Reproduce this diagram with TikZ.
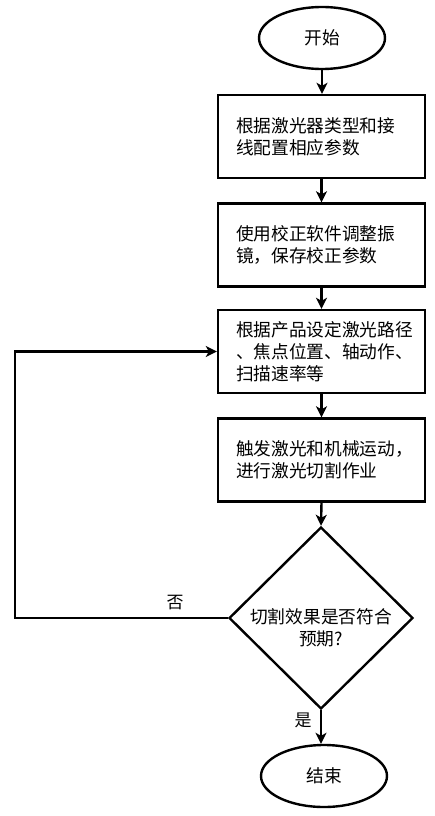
\documentclass[tikz,border=0pt]{standalone}
\usepackage{fontspec}
\setmainfont{Noto Sans CJK SC}
\usetikzlibrary{shapes.geometric,arrows.meta}
\begin{document}
\begin{tikzpicture}[x=1pt,y=-1pt,line width=2.4pt,
  font=\fontsize{17.7}{22}\selectfont,
  term/.style={ellipse,draw,minimum width=126pt,minimum height=62pt,inner sep=0pt},
  proc/.style={rectangle,draw,minimum width=207pt,minimum height=83pt,
    text width=171pt,inner xsep=18pt,inner ysep=0pt,align=left},
  deci/.style={diamond,draw,minimum width=184pt,minimum height=182pt,inner sep=0pt},
  plain/.style={inner sep=0pt,align=center},
  arr/.style={-{Stealth[length=11pt,width=11pt,inset=3pt]}}]
\fill[white] (0,0) rectangle (434,816);
\useasboundingbox (0,0) rectangle (434,816);
\node[term] (start) at (322,38) {开始};
\node[proc] (b1) at (321.5,136.5) {根据激光器类型和接\\线配置相应参数};
\node[proc] (b2) at (321.5,245) {使用校正软件调整振\\镜，保存校正参数};
\node[proc] (b3) at (321.5,351.5) {根据产品设定激光路径\\、焦点位置、轴动作、\\扫描速率等};
\node[proc] (b4) at (321.5,460) {触发激光和机械运动，\\进行激光切割作业};
\node[deci] (dec) at (321,618) {};
\node[plain] (dectext) at (321,628) {切割效果是否符合\\预期?};
\node[term] (end) at (324,776) {结束};
\node[plain,font=\fontsize{17}{20}\selectfont] (no) at (175,603) {否};
\node[plain,font=\fontsize{17}{20}\selectfont] (yes) at (303,720) {是};
\draw[arr] (start.south) -- (start.south |- b1.north);
\draw[arr] (b1.south) -- (b2.north);
\draw[arr] (b2.south) -- (b3.north);
\draw[arr] (b3.south) -- (b4.north);
\draw[arr] (b4.south) -- (dec.north);
\draw[arr] (dec.south) -- (dec.south |- end.north);
\draw[arr] (dec.west) -- ++(-213,0) |- (b3.west);
\end{tikzpicture}
\end{document}
